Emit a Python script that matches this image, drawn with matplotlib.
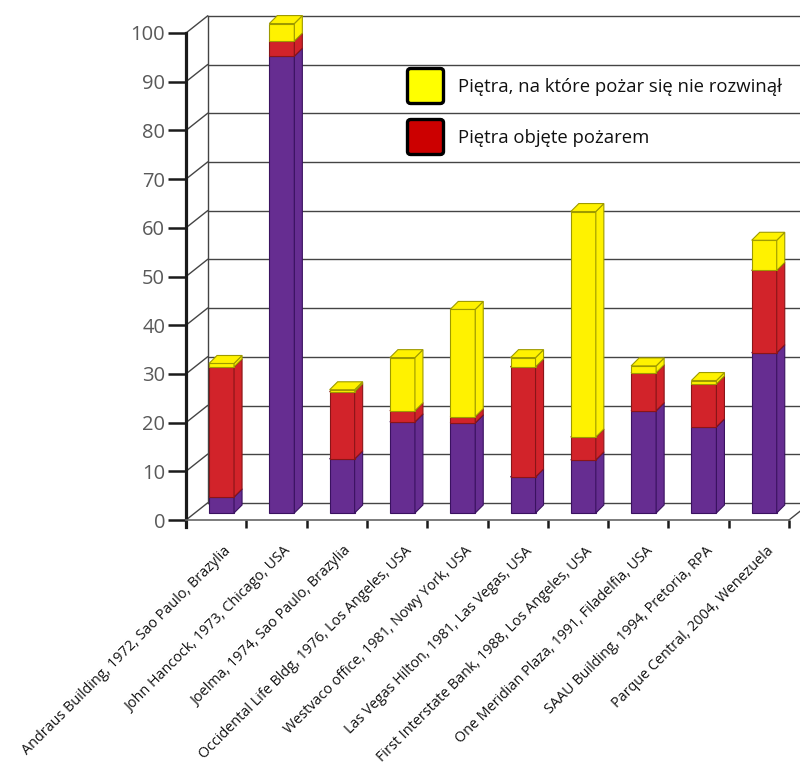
import matplotlib
matplotlib.use("Agg")
import matplotlib.pyplot as plt
from matplotlib.patches import Polygon, FancyBboxPatch
from matplotlib.transforms import ScaledTranslation

# ── Data ──────────────────────────────────────────────────────────────────────
buildings = [
    "Andraus Building, 1972, Sao Paulo, Brazylia",
    "John Hancock, 1973, Chicago, USA",
    "Joelma, 1974, Sao Paulo, Brazylia",
    "Occidental Life Bldg, 1976, Los Angeles, USA",
    "Westvaco office, 1981, Nowy York, USA",
    "Las Vegas Hilton, 1981, Las Vegas, USA",
    "First Interstate Bank, 1988, Los Angeles, USA",
    "One Meridian Plaza, 1991, Filadelfia, USA",
    "SAAU Building, 1994, Pretoria, RPA",
    "Parque Central, 2004, Wenezuela",
]
floors_below = [3.3, 93.8, 11.1, 18.7, 18.5, 7.4, 10.9, 21.0, 17.7, 32.9]
floors_fire = [26.7, 3.1, 13.8, 2.3, 1.3, 22.6, 4.7, 7.8, 8.8, 16.9]
floors_nofire = [0.7, 3.6, 0.4, 10.9, 22.0, 1.9, 46.3, 1.4, 0.7, 6.2]

label_nofire = "Piętra, na które pożar się nie rozwinął"
label_fire = "Piętra objęte pożarem"
y_ticks = list(range(0, 101, 10))

# ── Style ─────────────────────────────────────────────────────────────────────
PURPLE, PURPLE_EDGE = "#662D91", "#3A1260"
RED, RED_EDGE = "#D2232A", "#8A1518"
YELLOW, YELLOW_EDGE = "#FFF200", "#9E9A00"
GRID = "#444444"

# pseudo-3D geometry (data units: x = category, y = floors)
WALL_DX, WALL_DY = 0.357, 3.5     # back wall depth
PLANE_DX, PLANE_DY = 0.089, 1.44  # front of bars
DEPTH_DX, DEPTH_DY = 0.133, 1.64  # bar depth
BAR_W = 0.415

W, H = 800, 774
fig = plt.figure(figsize=(W / 100, H / 100), dpi=100)
ax = fig.add_axes([186 / W, 1 - 520 / H, 603 / W, 487 / H])
ax.set_xlim(-0.5, 9.5)
ax.set_ylim(0, 100)
n = len(buildings)

# side wall and back wall grid
x_wall = -0.5 + WALL_DX
x_far = 11
for v in y_ticks:
    ax.plot([-0.5, x_wall], [v, v + WALL_DY], color=GRID, lw=1.0,
            clip_on=False, zorder=1)
    ax.plot([x_wall, x_far], [v + WALL_DY, v + WALL_DY], color=GRID, lw=1.0,
            clip_on=False, zorder=1)
ax.plot([x_wall, x_wall], [WALL_DY, 100 + WALL_DY], color=GRID, lw=1.0,
        clip_on=False, zorder=1)
# right edge of the floor
ax.plot([9.5, 9.5 + WALL_DX], [0, WALL_DY], color=GRID, lw=1.0,
        clip_on=False, zorder=1)

# ── Stacked 3D bars ───────────────────────────────────────────────────────────
segments = [
    (floors_below, PURPLE, PURPLE_EDGE),
    (floors_fire, RED, RED_EDGE),
    (floors_nofire, YELLOW, YELLOW_EDGE),
]
bottoms = [PLANE_DY] * n
xs = [i + PLANE_DX for i in range(n)]
for values, color, edge in segments:
    ax.bar(xs, values, width=BAR_W, bottom=bottoms, color=color,
           edgecolor=edge, linewidth=0.8, zorder=3, clip_on=False)
    for i in range(n):
        y0 = bottoms[i]
        y1 = y0 + values[i]
        xl = xs[i] - BAR_W / 2
        xr = xs[i] + BAR_W / 2
        side = [(xr, y0), (xr + DEPTH_DX, y0 + DEPTH_DY),
                (xr + DEPTH_DX, y1 + DEPTH_DY), (xr, y1)]
        top = [(xl, y1), (xr, y1), (xr + DEPTH_DX, y1 + DEPTH_DY),
               (xl + DEPTH_DX, y1 + DEPTH_DY)]
        for pts in (side, top):
            ax.add_patch(Polygon(pts, closed=True, facecolor=color,
                                 edgecolor=edge, linewidth=0.8, zorder=3,
                                 clip_on=False))
    bottoms = [b + v for b, v in zip(bottoms, values)]

# ── Axes ──────────────────────────────────────────────────────────────────────
for s in ("top", "right"):
    ax.spines[s].set_visible(False)
ax.spines["left"].set_linewidth(2.3)
ax.spines["left"].set_color("#1a1a1a")
ax.spines["left"].set_bounds(-1.45, 100)
ax.spines["bottom"].set_linewidth(1.2)
ax.spines["bottom"].set_color("#666666")

ax.set_yticks(y_ticks)
ax.tick_params(axis="y", length=13, width=1.8, color="#1a1a1a", pad=2,
               labelsize=14.5, labelcolor="#595959")
for lab in ax.get_yticklabels():
    lab.set_family("Open Sans")

ax.set_xticks(range(n))
ax.set_xticklabels(buildings, rotation=45, ha="right",
                   rotation_mode="anchor", fontsize=10.4, family="Open Sans",
                   color="#111111")
ax.tick_params(axis="x", which="major", length=0, pad=17)
ax.set_xticks([i + 0.5 for i in range(n)], minor=True)
ax.tick_params(axis="x", which="minor", length=6, width=1.8,
               color="#1a1a1a", direction="out")
shift = ScaledTranslation(7 / 100, 0, fig.dpi_scale_trans)
for lab in ax.get_xticklabels():
    lab.set_transform(lab.get_transform() + shift)

# ── Legend (drawn by hand for the thick square keys) ─────────────────────────
legend_rows = [(label_nofire, "#FFFF00", 86), (label_fire, "#CC0000", 137)]
for text, fill, yc in legend_rows:
    key = FancyBboxPatch((407.5 / W, 1 - (yc + 17.5) / H), 36 / W, 35 / H,
                         boxstyle="round,pad=0,rounding_size=0.004",
                         transform=fig.transFigure, facecolor=fill,
                         edgecolor="black", linewidth=2.4)
    fig.add_artist(key)
    fig.text(458 / W, 1 - (yc + 1) / H, text, fontsize=13.3,
             family="Open Sans", color="#111111", va="center", ha="left")

fig.savefig("out.png", dpi=100)
